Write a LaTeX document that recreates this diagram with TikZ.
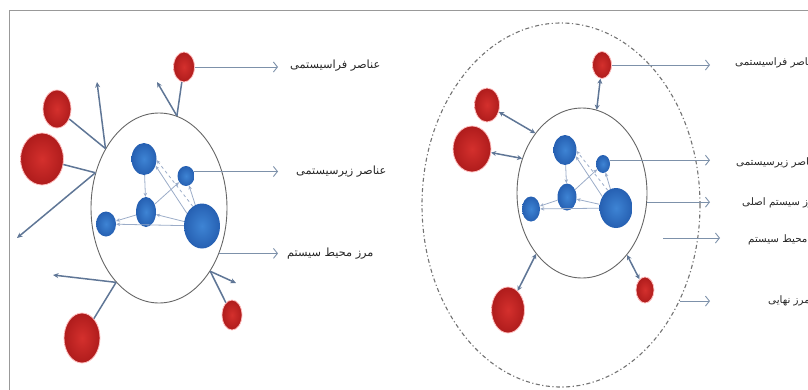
\documentclass[tikz,border=0pt]{standalone}
\usepackage{fontspec}
\newfontfamily\arabicfont[Script=Arabic]{DejaVu Sans}
\TeXXeTstate=1
\usetikzlibrary{arrows.meta,positioning,shapes.geometric}

\definecolor{linkblue}{RGB}{95,118,150}
\definecolor{labblue}{RGB}{125,145,170}
\definecolor{thinblue}{RGB}{155,172,200}
\definecolor{ballred}{RGB}{175,28,28}
\definecolor{ballredin}{RGB}{212,48,45}
\definecolor{ballblue}{RGB}{38,96,178}
\definecolor{ballbluein}{RGB}{62,132,212}

\begin{document}
\begin{tikzpicture}[x=1pt, y=-1pt,
    redball/.style={ellipse, inner sep=0pt, shading=radial, inner color=ballredin, outer color=ballred, draw=red!25, line width=0.8pt},
    blueball/.style={ellipse, inner sep=0pt, shading=radial, inner color=ballbluein, outer color=ballblue},
    bound/.style={ellipse, draw=black!60, line width=0.9pt, inner sep=0pt},
    link/.style={draw=linkblue, line width=1.5pt},
    outarr/.style={link, -{Stealth[length=5.5pt,width=5pt]}},
    dbl/.style={link, {Stealth[length=5pt,width=5pt]}-{Stealth[length=5pt,width=5pt]}},
    subarr/.style={draw=thinblue, line width=0.8pt, -{Stealth[length=4pt,width=3.5pt]}},
    lab/.style={draw=labblue, line width=0.9pt, -{Straight Barb[length=4pt,width=10pt]}},
    txt/.style={font=\arabicfont\fontsize{11.3}{13}\selectfont, text=black!85, inner sep=0pt, anchor=west},
    rtxt/.style={txt, font=\arabicfont\fontsize{10.3}{12}\selectfont},
]
\clip (0,0) rectangle (808,389);
\draw[black!40, line width=1pt] (9,10) rectangle (830,400);

% Left: open system
\node[bound, minimum width=136, minimum height=190] (sys) at (159,208) {};
\node[redball, minimum width=21, minimum height=30] (r1) at (184,67) {};
\node[redball, minimum width=28, minimum height=38] (r2) at (57,109) {};
\node[redball, minimum width=43, minimum height=52] (r3) at (42,159) {};
\node[redball, minimum width=36, minimum height=50] (r4) at (82,338) {};
\node[redball, minimum width=20, minimum height=30] (r5) at (232,315) {};
\node[blueball, minimum width=25, minimum height=32] (b1) at (144,159) {};
\node[blueball, minimum width=17, minimum height=20] (b2) at (186,176) {};
\node[blueball, minimum width=20, minimum height=30] (b3) at (146,212) {};
\node[blueball, minimum width=20, minimum height=25] (b4) at (106,224) {};
\node[blueball, minimum width=36, minimum height=45] (b5) at (202,226) {};

\coordinate (o1) at (157,82);
\coordinate (o2) at (97,82);
\coordinate (o3) at (17,238);
\coordinate (o4) at (53,275);
\coordinate (o5) at (236,283);
\coordinate (l1) at (278,67);
\coordinate (l2) at (278,171);
\coordinate (l3) at (278,253);

\draw[subarr] (b1) -- (b3);
\draw[subarr] (b3) -- (b4);
\draw[subarr] (b5) -- (b4);
\draw[subarr] (b5) -- (b3);
\draw[subarr] (b3) -- (b2);
\draw[subarr] (b5) -- (b2);
\draw[subarr] (b5.140) -- (b1.-30);
\draw[subarr, dashed] (b5.115) -- (b1.-5);

\draw[link] (r1) -- (sys.79); \draw[outarr] (sys.79) -- (o1);
\draw[link] (r2) -- (sys.132); \draw[outarr] (sys.132) -- (o2);
\draw[link] (r3) -- (sys.151); \draw[outarr] (sys.151) -- (o3);
\draw[link] (r4) -- (sys.240); \draw[outarr] (sys.240) -- (o4);
\draw[link] (r5) -- (sys.309); \draw[outarr] (sys.309) -- (o5);

\draw[lab] (r1.east) -- (l1);
\draw[lab] (b2.30) -- (b2.30 -| l2);
\draw[lab] (sys.323) -- (sys.323 -| l3);
\node[txt] (t1) at (290,66) {\beginR عناصر فراسیستمی\endR};
\node[txt] (t2) at (296,172) {\beginR عناصر زیرسیستمی\endR};
\node[txt] (t3) at (287,254) {\beginR مرز محیط سیستم\endR};

% Right: system with final boundary
\node[ellipse, draw=black!55, dash pattern=on 4pt off 2.5pt on 1.2pt off 2.5pt, line width=1.1pt, minimum width=278, minimum height=364, inner sep=0pt] (env) at (561,205) {};
\node[bound, minimum width=130, minimum height=170] (sys2) at (582,193) {};
\node[redball, minimum width=19, minimum height=27] (q1) at (602,65) {};
\node[redball, minimum width=25, minimum height=34] (q2) at (487,105) {};
\node[redball, minimum width=38, minimum height=46] (q3) at (472,149) {};
\node[redball, minimum width=33, minimum height=46] (q4) at (508,310) {};
\node[redball, minimum width=18, minimum height=26] (q5) at (645,290) {};
\node[blueball, minimum width=23, minimum height=30] (c1) at (565,150) {};
\node[blueball, minimum width=14, minimum height=18] (c2) at (603,164) {};
\node[blueball, minimum width=19, minimum height=27] (c3) at (567,197) {};
\node[blueball, minimum width=18, minimum height=25] (c4) at (531,209) {};
\node[blueball, minimum width=33, minimum height=40] (c5) at (616,208) {};

\coordinate (m1) at (710,65);
\coordinate (m2) at (710,160);
\coordinate (m3) at (710,202);
\coordinate (m4a) at (663,238);
\coordinate (m4b) at (720,238);
\coordinate (m5) at (710,300);

\draw[subarr] (c1) -- (c3);
\draw[subarr] (c3) -- (c4);
\draw[subarr] (c5) -- (c4);
\draw[subarr] (c5) -- (c3);
\draw[subarr] (c3) -- (c2);
\draw[subarr] (c5) -- (c2);
\draw[subarr] (c5.140) -- (c1.-30);
\draw[subarr, dashed] (c5.115) -- (c1.-5);

\draw[dbl] (q1) -- (sys2.80);
\draw[dbl] (q2) -- (sys2.128);
\draw[dbl] (q3) -- (sys2.150);
\draw[dbl] (q4) -- (sys2.233);
\draw[dbl] (q5) -- (sys2.306);

\draw[lab] (q1.east) -- (m1);
\draw[lab] (c2.30) -- (c2.30 -| m2);
\draw[lab] (sys2.352) -- (sys2.352 -| m3);
\draw[lab] (m4a) -- (m4b);
\draw[lab] (env.321) -- (env.321 -| m5);
\node[rtxt] (u1) at (735,63) {\beginR عناصر فراسیستمی\endR};
\node[rtxt] (u2) at (736,163) {\beginR عناصر زیرسیستمی\endR};
\node[rtxt] (u3) at (742,203) {\beginR مرز سیستم اصلی\endR};
\node[rtxt] (u4) at (748,240) {\beginR مرز محیط سیستم\endR};
\node[rtxt] (u5) at (768,301) {\beginR مرز نهایی\endR};
\end{tikzpicture}
\end{document}
